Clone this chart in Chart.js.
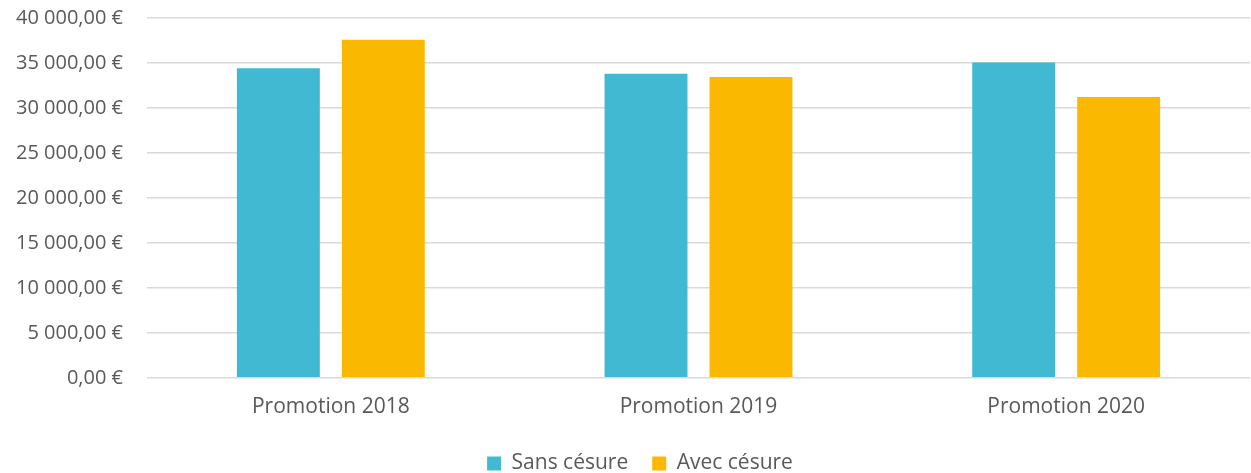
<!DOCTYPE html>
<html>
<head>
<meta charset="utf-8">
<script src="https://cdn.jsdelivr.net/npm/chart.js@4"></script>
<style>
  html, body { margin: 0; padding: 0; background: #fff; }
  #wrap { width: 1251px; height: 473px; }
</style>
</head>
<body>
<div id="wrap"><canvas id="barChart"></canvas></div>
<script>
// Données
const promotions = ['Promotion 2018', 'Promotion 2019', 'Promotion 2020'];
const sansCesure = [34420, 33790, 35050];
const avecCesure = [37580, 33450, 31220];
const yTicks = [0, 5000, 10000, 15000, 20000, 25000, 30000, 35000, 40000];

const FONT = "'Open Sans', sans-serif";
const TXT = '#595959';

// format "40 000,00 €"
function euro(v) {
    const parts = Number(v).toFixed(2).split('.');
    const ent = parts[0].replace(/\B(?=(\d{3})+(?!\d))/g, ' ');
    return ent + ',' + parts[1] + ' €';
}

// la légende est un peu décalée à droite dans l'original
const legendShift = {
    id: 'legendShift',
    afterLayout(chart) {
        chart.legend.left += 15;
        chart.legend.right += 15;
    }
};

new Chart(document.getElementById('barChart'), {
    type: 'bar',
    data: {
        labels: promotions,
        datasets: [
            { label: 'Sans césure', data: sansCesure, backgroundColor: '#41B9D2',
              categoryPercentage: 0.571, barPercentage: 0.79 },
            { label: 'Avec césure', data: avecCesure, backgroundColor: '#FAB800',
              categoryPercentage: 0.571, barPercentage: 0.79 }
        ]
    },
    plugins: [legendShift],
    options: {
        responsive: true,
        maintainAspectRatio: false,
        animation: false,
        layout: { padding: { top: 18, left: 0, right: 1, bottom: -11 } },
        plugins: {
            tooltip: { enabled: false },
            legend: {
                position: 'bottom',
                labels: {
                    boxWidth: 14, boxHeight: 14, padding: 24,
                    color: TXT, font: { family: FONT, size: 21 }
                }
            }
        },
        scales: {
            x: {
                grid: { display: false },
                border: { display: false },
                ticks: { color: TXT, font: { family: FONT, size: 21 }, padding: 9 }
            },
            y: {
                min: 0, max: 40000,
                afterFit: s => { s.width = 147; s.paddingTop = 0; s.paddingBottom = 0; },
                afterBuildTicks: s => { s.ticks = yTicks.map(v => ({ value: v })); },
                grid: { color: '#d9d9d9', lineWidth: 1.5, drawTicks: false },
                border: { display: false },
                ticks: {
                    color: TXT, font: { family: FONT, size: 20 }, padding: 24,
                    callback: v => euro(v)
                }
            }
        }
    }
});
</script>
</body>
</html>
